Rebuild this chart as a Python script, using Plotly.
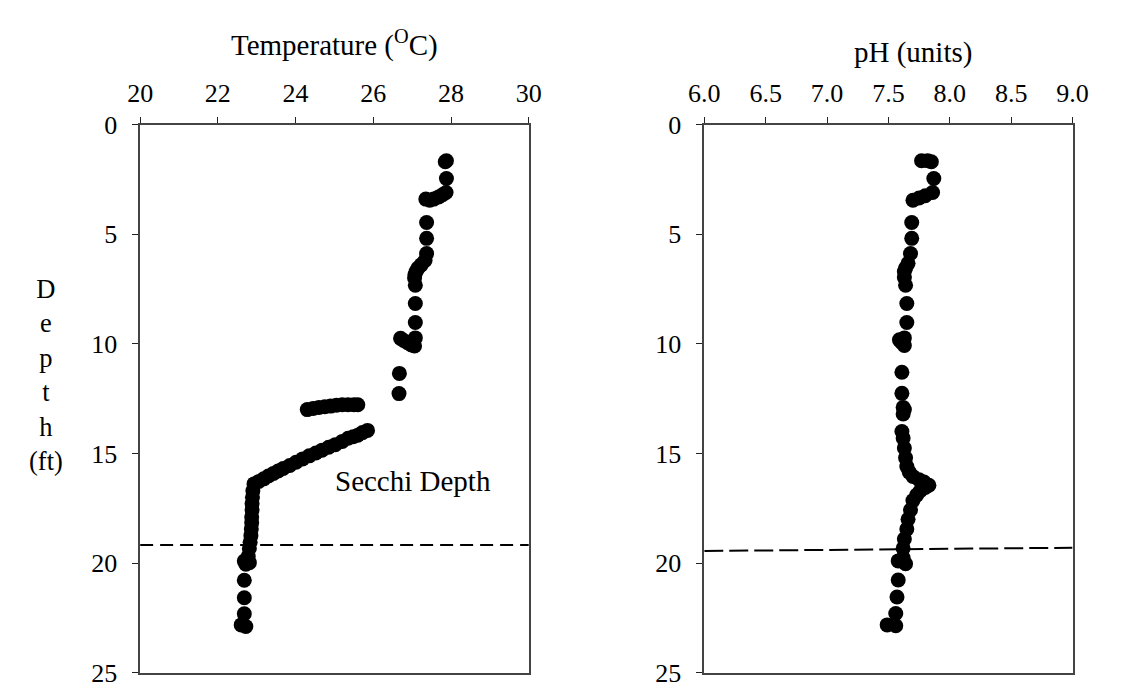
import plotly.graph_objects as go

# temperature profile (depth ft, deg C)
temp_depth = [1.65, 1.7, 2.46, 3.1, 3.2, 3.3, 3.4, 3.45, 3.4, 4.47, 5.19, 5.88, 6.2, 6.4, 6.55,
              6.7, 6.85, 7.0, 7.33, 8.16, 9.03, 9.73, 9.75, 9.85, 9.95, 10.05, 10.1, 11.35, 12.27,
              13.0, 12.95, 12.9, 12.87, 12.84, 12.8, 12.78, 12.78, 12.78, 12.78,
              13.95, 14.05, 14.17, 14.24, 14.31, 14.45, 14.6, 14.72, 14.85, 14.98, 15.11, 15.25,
              15.4, 15.55, 15.69, 15.8, 15.91, 16.03, 16.16, 16.28, 16.39, 16.7, 17.0, 17.3,
              17.58, 17.9, 18.16, 18.45, 18.75, 19.05, 19.33, 19.69, 19.91, 19.98, 20.05,
              20.78, 21.58, 22.31, 22.82, 22.89]
temp_val = [27.88, 27.85, 27.88, 27.87, 27.78, 27.68, 27.55, 27.45, 27.35, 27.37, 27.37, 27.37,
            27.33, 27.23, 27.15, 27.1, 27.07, 27.06, 27.08, 27.08, 27.08, 27.08, 26.7, 26.78,
            26.88, 26.98, 27.06, 26.67, 26.66,
            24.3, 24.45, 24.6, 24.75, 24.9, 25.05, 25.2, 25.35, 25.5, 25.6,
            25.85, 25.72, 25.6, 25.48, 25.35, 25.2, 25.02, 24.85, 24.68, 24.52, 24.35, 24.18,
            24.01, 23.85, 23.68, 23.55, 23.43, 23.3, 23.18, 23.05, 22.93, 22.9, 22.89, 22.88,
            22.88, 22.87, 22.87, 22.86, 22.85, 22.83, 22.81, 22.78, 22.68, 22.81, 22.72,
            22.68, 22.68, 22.68, 22.6, 22.72]

# pH profile (depth ft, pH units)
ph_depth = [1.65, 1.65, 1.7, 2.46, 3.1, 3.25, 3.35, 3.45, 4.47, 5.19, 5.88, 6.33, 6.55, 6.7,
            6.98, 7.33, 8.16, 9.03, 9.73, 9.82, 9.95, 10.08, 11.3, 12.26, 12.9, 13.0, 13.2,
            14.0, 14.3, 14.75, 15.2, 15.6, 15.85, 16.05, 16.2, 16.3, 16.45, 16.55, 16.7, 16.9,
            17.15, 17.58, 18.0, 18.45, 18.9, 19.33, 19.76, 19.9, 20.03, 20.77, 21.55, 22.3,
            22.82, 22.86]
ph_val = [7.77, 7.82, 7.85, 7.87, 7.86, 7.80, 7.75, 7.70, 7.69, 7.69, 7.68, 7.66, 7.64, 7.63,
          7.63, 7.64, 7.65, 7.65, 7.63, 7.59, 7.61, 7.63, 7.61, 7.61, 7.62, 7.63, 7.62,
          7.61, 7.62, 7.63, 7.64, 7.65, 7.67, 7.70, 7.75, 7.79, 7.83, 7.80, 7.76, 7.73,
          7.70, 7.68, 7.66, 7.65, 7.63, 7.62, 7.62, 7.58, 7.64, 7.58, 7.57, 7.56,
          7.49, 7.56]

# secchi depth lines (x ends, depth ends)
secchi_temp_x = [20, 30]
secchi_temp_y = [19.18, 19.18]
secchi_ph_x = [6.0, 9.0]
secchi_ph_y = [19.45, 19.3]

temp_ticks = [20, 22, 24, 26, 28, 30]
ph_ticks = [6.0, 6.5, 7.0, 7.5, 8.0, 8.5, 9.0]
depth_ticks = [0, 5, 10, 15, 20, 25]

FONT = "Liberation Serif"
W, H = 1134, 696

fig = go.Figure()
fig.add_trace(go.Scatter(x=temp_val, y=temp_depth, mode="markers",
                         marker=dict(color="black", size=15), xaxis="x", yaxis="y"))
fig.add_trace(go.Scatter(x=ph_val, y=ph_depth, mode="markers",
                         marker=dict(color="black", size=15), xaxis="x2", yaxis="y2"))
fig.add_trace(go.Scatter(x=secchi_temp_x, y=secchi_temp_y, mode="lines",
                         line=dict(color="black", width=2, dash="13px,7px"), xaxis="x", yaxis="y"))
fig.add_trace(go.Scatter(x=secchi_ph_x, y=secchi_ph_y, mode="lines",
                         line=dict(color="black", width=2, dash="19px,6px"), xaxis="x2", yaxis="y2"))

axis_common = dict(showgrid=False, zeroline=False, showline=True, linecolor="#444", linewidth=1.5,
                   mirror=True, ticks="outside", ticklen=6, tickcolor="#222",
                   tickfont=dict(family=FONT, size=26, color="black"))

y_dom = [1 - 679 / H, 1 - 107 / H]
fig.update_layout(
    width=W, height=H, margin=dict(l=0, r=0, t=0, b=0),
    paper_bgcolor="white", plot_bgcolor="white", showlegend=False,
    xaxis=dict(domain=[119.5 / W, 519.5 / W], range=[20, 30], tickvals=temp_ticks,
               side="top", anchor="y", ticklabelstandoff=4, **axis_common),
    yaxis=dict(domain=y_dom, range=[25, 0], tickvals=depth_ticks, anchor="x",
               ticklabelstandoff=10, **axis_common),
    xaxis2=dict(domain=[700 / W, 1079 / W], range=[6, 9], tickvals=ph_ticks,
                tickformat=".1f", side="top", anchor="y2", ticklabelstandoff=4, **axis_common),
    yaxis2=dict(domain=y_dom, range=[25, 0], tickvals=depth_ticks, anchor="x2",
                ticklabelstandoff=10, **axis_common),
)

title_font = dict(family=FONT, size=29, color="black")
fig.add_annotation(text="Temperature (<sup>O</sup>C)", x=319.5 / W, y=1 - 22 / H, xref="paper",
                   yref="paper", xanchor="center", yanchor="middle", showarrow=False,
                   font=title_font)
fig.add_annotation(text="pH (units)", x=915 / W, y=1 - 32 / H, xref="paper", yref="paper",
                   xanchor="center", yanchor="middle", showarrow=False, font=title_font)
fig.add_annotation(text="Secchi Depth", x=318 / W, y=1 - 479 / H, xref="paper", yref="paper",
                   xanchor="left", yanchor="middle", showarrow=False, font=title_font)
fig.add_annotation(text="D<br>e<br>p<br>t<br>h<br>(ft)", x=23 / W, y=1 - 368 / H, xref="paper",
                   yref="paper", xanchor="center", yanchor="middle", showarrow=False,
                   align="center", font=dict(family=FONT, size=26.5, color="black"))

fig.write_html("out.html")
